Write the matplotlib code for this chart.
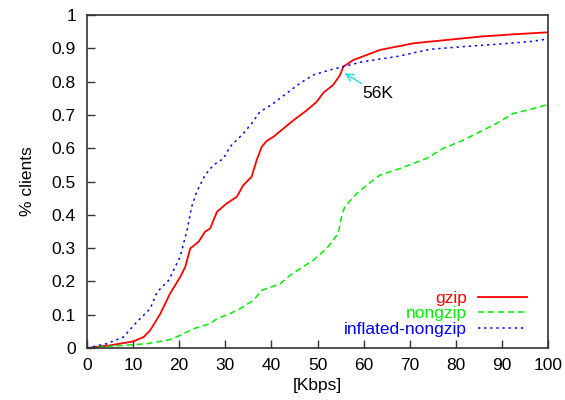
import matplotlib
matplotlib.use("Agg")
import matplotlib.pyplot as plt

plt.rcParams['font.family'] = ['Liberation Sans', 'DejaVu Sans']

gzip_x = [0, 5, 10.1, 12.3, 13.7, 15.9, 18.0, 20.2, 21.3, 22.4, 24.2, 25.6, 26.7, 28.2, 30.3,
          32.5, 33.9, 35.7, 36.8, 37.9, 39.0, 40.4, 42.6, 44.8, 47.7, 49.8, 51.3, 53.4,
          54.9, 55.6, 57.8, 60.7, 63.5, 70.8, 78.0, 85.2, 92.4, 100]
gzip_y = [0, 0.008, 0.02, 0.033, 0.053, 0.103, 0.163, 0.213, 0.243, 0.299, 0.319, 0.349, 0.359,
          0.409, 0.434, 0.454, 0.489, 0.514, 0.564, 0.604, 0.622, 0.634, 0.659, 0.684, 0.714,
          0.739, 0.767, 0.790, 0.820, 0.845, 0.865, 0.880, 0.895, 0.915, 0.925, 0.935, 0.942, 0.948]

nongzip_x = [0, 5, 10.1, 13, 18.0, 20.2, 23.1, 26.7, 28.2, 31.0, 33.2, 36.1, 37.9, 41.9, 44.0,
             46.2, 49.1, 52.0, 54.5, 55.2, 55.9, 58.5, 60.7, 63.5, 67.9, 73.6, 77.2, 81.6,
             85.2, 88.8, 92.4, 96.0, 100]
nongzip_y = [0, 0.005, 0.010, 0.013, 0.025, 0.038, 0.058, 0.073, 0.088, 0.103, 0.118, 0.143,
             0.173, 0.193, 0.218, 0.238, 0.264, 0.299, 0.344, 0.394, 0.424, 0.464, 0.489, 0.519,
             0.539, 0.569, 0.599, 0.624, 0.649, 0.674, 0.704, 0.716, 0.731]

inflated_x = [0, 4.3, 7.9, 10.8, 13.7, 15.2, 17.7, 20.2, 21.7, 22.7, 23.8, 25.6, 27.4, 29.6,
              31.0, 33.9, 35.7, 37.5, 40.4, 43.3, 46.2, 49.1, 52.7, 55.6, 59.9, 67.1, 74.4,
              81.6, 88.8, 96.0, 100]
inflated_y = [0, 0.013, 0.033, 0.078, 0.118, 0.168, 0.203, 0.274, 0.354, 0.424, 0.469, 0.519,
              0.549, 0.569, 0.604, 0.644, 0.674, 0.709, 0.734, 0.765, 0.795, 0.820, 0.835,
              0.845, 0.860, 0.875, 0.897, 0.905, 0.912, 0.920, 0.928]

x_ticks = [0, 10, 20, 30, 40, 50, 60, 70, 80, 90, 100]
y_ticks = [0, 0.1, 0.2, 0.3, 0.4, 0.5, 0.6, 0.7, 0.8, 0.9, 1]
y_ticklabels = ['0', '0.1', '0.2', '0.3', '0.4', '0.5', '0.6', '0.7', '0.8', '0.9', '1']

FS = 12.5

fig = plt.figure(figsize=(5.65, 4.0), dpi=100)
ax = fig.add_axes([87/565, 52/400, 461/565, 333/400])

red = '#ff0000'
green = '#00ee00'
blue = '#0000ff'

ax.plot(gzip_x, gzip_y, color=red, lw=1.3, label='gzip')
ax.plot(nongzip_x, nongzip_y, color=green, lw=1.1, dashes=(4, 2.5), label='nongzip')
ax.plot(inflated_x, inflated_y, color=blue, lw=1.1, dashes=(1.5, 2.5), label='inflated-nongzip')

ax.set_xlim(0, 100)
ax.set_ylim(0, 1)
ax.set_xticks(x_ticks)
ax.set_yticks(y_ticks)
ax.set_yticklabels(y_ticklabels)
ax.tick_params(direction='in', length=6, width=1, labelsize=FS, colors='#333333',
               labelcolor='black')
ax.tick_params(axis='y', pad=8)
ax.tick_params(axis='x', pad=7)
for s in ax.spines.values():
    s.set_color('#333333')
    s.set_linewidth(1.2)

ax.set_xlabel('[Kbps]', fontsize=FS, labelpad=4)
ax.set_ylabel('% clients', fontsize=FS, labelpad=12)

ax.annotate('56K', xy=(55.9, 0.825), xytext=(59.8, 0.764), fontsize=FS,
            va='center', ha='left',
            arrowprops=dict(arrowstyle='->', color='#00dddd', lw=1, linestyle=(0, (1.5, 1)),
                            shrinkA=0, shrinkB=0))

leg = ax.legend(loc='lower right', frameon=False, fontsize=FS, markerfirst=False,
                handlelength=2.8, handletextpad=0.65, labelspacing=0.0,
                bbox_to_anchor=(0.977, 0.003), labelcolor='linecolor', borderaxespad=0.2)

fig.savefig('out.png', dpi=100)
